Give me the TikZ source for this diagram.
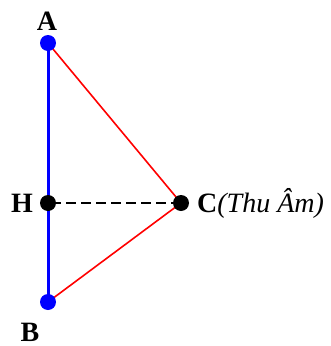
\documentclass[tikz,border=0pt]{standalone}
\usepackage{fontspec}
\setmainfont{Liberation Serif}
\begin{document}
\begin{tikzpicture}[x=1pt,y=-1pt,
  lbl/.style={font=\fontsize{28}{30}\selectfont\bfseries, inner sep=0pt},
  bdot/.style={circle, fill=blue, inner sep=0pt, minimum size=16pt},
  kdot/.style={circle, fill=black, inner sep=0pt, minimum size=16pt},
  redline/.style={draw=red, line width=1.6pt},
  blueline/.style={draw=blue, line width=3pt},
  hline/.style={draw=black, line width=2.6pt, dash pattern=on 10pt off 5pt, dash phase=-3pt}]
\useasboundingbox (0,0) rectangle (331,346);
\coordinate (A) at (48,43);
\coordinate (B) at (48,302);
\coordinate (H) at (48,203);
\coordinate (C) at (181,203);
\draw[blueline] (A) -- (B);
\draw[redline] (A) -- (C) -- (B);
\draw[hline] (H) -- (C);
\node[bdot] (Ad) at (A) {};
\node[bdot] (Bd) at (B) {};
\node[kdot] (Hd) at (H) {};
\node[kdot] (Cd) at (C) {};
\node[lbl] (Al) at (47,21) {A};
\node[lbl] (Bl) at (30,332) {B};
\node[lbl] (Hl) at (22,203) {H};
\node[lbl, anchor=west] (Cl) at (197,203) {C\textmd{\textit{(Thu Âm)}}};
\end{tikzpicture}
\end{document}
